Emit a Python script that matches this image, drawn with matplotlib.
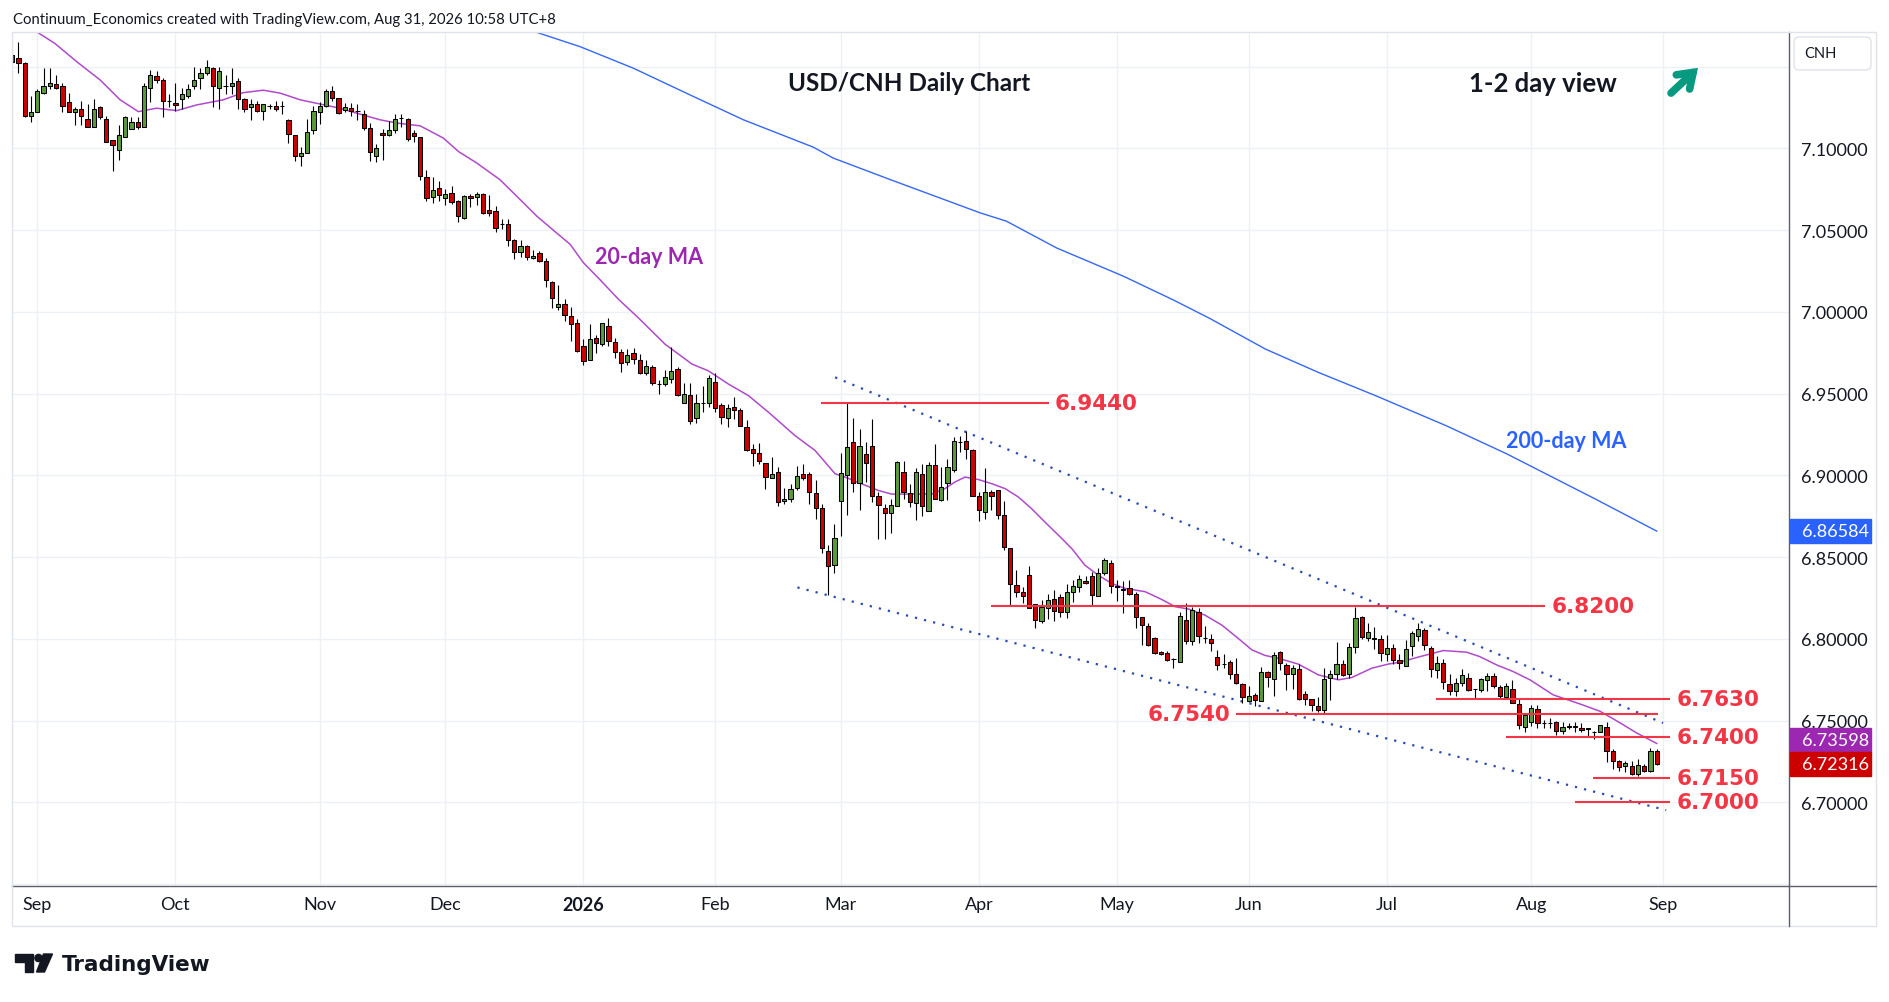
import numpy as np
import pandas as pd
import matplotlib
matplotlib.use("Agg")
from matplotlib import pyplot as plt
from matplotlib.patches import Rectangle, FancyBboxPatch, Circle, Polygon, FancyArrowPatch
from matplotlib.lines import Line2D
from matplotlib.transforms import IdentityTransform

plt.rcParams['font.family'] = ['Lato', 'DejaVu Sans']

# ---------------------------------------------------------------
# data (USD/CNH daily)
# ---------------------------------------------------------------
dates = pd.bdate_range('2025-08-26', '2026-08-31')
dates = dates[~dates.isin(pd.to_datetime(['2025-12-25', '2026-01-01']))]

opens = [
    7.1573, 7.1550, 7.1520, 7.1200, 7.1220, 7.1340, 7.1380, 7.1390, 7.1380, 7.1280,
    7.1220, 7.1240, 7.1180, 7.1130, 7.1250, 7.1180, 7.1050, 7.0990, 7.1070, 7.1120,
    7.1160, 7.1130, 7.1370, 7.1440, 7.1420, 7.1290, 7.1275, 7.1300, 7.1320, 7.1380,
    7.1430, 7.1460, 7.1490, 7.1370, 7.1380, 7.1380, 7.1410, 7.1300, 7.1250, 7.1270,
    7.1230, 7.1260, 7.1260, 7.1260, 7.1170, 7.1080, 7.0950, 7.0970, 7.1110, 7.1220,
    7.1260, 7.1350, 7.1305, 7.1236, 7.1244, 7.1226, 7.1207, 7.1122, 7.0951, 7.1091,
    7.1083, 7.1110, 7.1183, 7.1177, 7.1091, 7.1067, 7.0823, 7.0701, 7.0756, 7.0695,
    7.0726, 7.0675, 7.0573, 7.0707, 7.0701, 7.0720, 7.0624, 7.0616, 7.0535, 7.0539,
    7.0437, 7.0366, 7.0402, 7.0329, 7.0360, 7.0311, 7.0183, 7.0030, 7.0049, 6.9976,
    6.9933, 6.9793, 6.9705, 6.9837, 6.9805, 6.9915, 6.9817, 6.9756, 6.9693, 6.9746,
    6.9703, 6.9626, 6.9665, 6.9561, 6.9557, 6.9591, 6.9652, 6.9444, 6.9488, 6.9348,
    6.9444, 6.9444, 6.9573, 6.9427, 6.9350, 6.9415, 6.9397, 6.9293, 6.9159, 6.9135,
    6.9074, 6.8983, 6.9018, 6.8843, 6.8855, 6.8922, 6.9007, 6.9007, 6.8890, 6.8800,
    6.8539, 6.8449, 6.8843, 6.9002, 6.9201, 6.8951, 6.9128, 6.9177, 6.8876, 6.8799,
    6.8769, 6.8811, 6.9018, 6.8890, 6.8832, 6.9008, 6.8781, 6.9061, 6.8850, 6.8951,
    6.9032, 6.9201, 6.9207, 6.9156, 6.8876, 6.8775, 6.8900, 6.8911, 6.8754, 6.8555,
    6.8326, 6.8287, 6.8389, 6.8212, 6.8111, 6.8186, 6.8241, 6.8257, 6.8166, 6.8287,
    6.8318, 6.8354, 6.8385, 6.8263, 6.8403, 6.8466, 6.8322, 6.8304, 6.8311, 6.8274,
    6.8134, 6.8079, 6.8002, 6.7921, 6.7915, 6.7878, 6.7858, 6.8112, 6.7986, 6.8164,
    6.8004, 6.7996, 6.7890, 6.7846, 6.7860, 6.7787, 6.7726, 6.7620, 6.7655, 6.7620,
    6.7799, 6.7756, 6.7921, 6.7840, 6.7787, 6.7813, 6.7661, 6.7630, 6.7586, 6.7566,
    6.7762, 6.7787, 6.7848, 6.7787, 6.7951, 6.8134, 6.8002, 6.8006, 6.7996, 6.7908,
    6.7944, 6.7871, 6.7833, 6.7955, 6.8016, 6.8054, 6.7945, 6.7809, 6.7853, 6.7725,
    6.7681, 6.7731, 6.7762, 6.7691, 6.7687, 6.7748, 6.7772, 6.7707, 6.7646, 6.7691,
    6.7604, 6.7461, 6.7494, 6.7573, 6.7484, 6.7486, 6.7488, 6.7433, 6.7463, 6.7465,
    6.7457, 6.7453, 6.7431, 6.7427, 6.7463, 6.7311, 6.7250, 6.7220, 6.7224, 6.7173,
    6.7220, 6.7193, 6.7315,
]
highs = [
    7.1580, 7.1650, 7.1530, 7.1320, 7.1360, 7.1490, 7.1490, 7.1450, 7.1400, 7.1340,
    7.1250, 7.1290, 7.1270, 7.1300, 7.1260, 7.1200, 7.1050, 7.1140, 7.1200, 7.1190,
    7.1190, 7.1400, 7.1480, 7.1470, 7.1430, 7.1330, 7.1400, 7.1370, 7.1390, 7.1500,
    7.1490, 7.1540, 7.1500, 7.1500, 7.1450, 7.1490, 7.1430, 7.1310, 7.1300, 7.1290,
    7.1270, 7.1270, 7.1290, 7.1290, 7.1180, 7.1080, 7.1010, 7.1180, 7.1260, 7.1280,
    7.1360, 7.1380, 7.1310, 7.1276, 7.1276, 7.1270, 7.1234, 7.1154, 7.1026, 7.1118,
    7.1169, 7.1209, 7.1209, 7.1183, 7.1112, 7.1067, 7.0868, 7.0823, 7.0799, 7.0748,
    7.0768, 7.0681, 7.0715, 7.0722, 7.0732, 7.0726, 7.0715, 7.0648, 7.0569, 7.0565,
    7.0447, 7.0437, 7.0410, 7.0380, 7.0374, 7.0329, 7.0187, 7.0163, 7.0081, 7.0030,
    6.9953, 6.9833, 6.9923, 6.9858, 6.9933, 6.9959, 6.9841, 6.9774, 6.9770, 6.9780,
    6.9744, 6.9703, 6.9673, 6.9581, 6.9642, 6.9787, 6.9663, 6.9567, 6.9567, 6.9494,
    6.9549, 6.9612, 6.9628, 6.9440, 6.9433, 6.9476, 6.9411, 6.9338, 6.9190, 6.9196,
    6.9074, 6.9110, 6.9050, 6.8922, 6.8949, 6.9059, 6.9070, 6.9018, 6.8969, 6.8827,
    6.8573, 6.8705, 6.9137, 6.9443, 6.9353, 6.9286, 6.9205, 6.9343, 6.8896, 6.8825,
    6.8856, 6.9089, 6.9089, 6.8947, 6.9045, 6.9069, 6.9083, 6.9191, 6.9049, 6.9099,
    6.9236, 6.9242, 6.9268, 6.9160, 6.8896, 6.9043, 6.8911, 6.8911, 6.8842, 6.8555,
    6.8423, 6.8318, 6.8446, 6.8212, 6.8237, 6.8271, 6.8298, 6.8271, 6.8338, 6.8359,
    6.8389, 6.8383, 6.8409, 6.8430, 6.8494, 6.8483, 6.8359, 6.8351, 6.8361, 6.8284,
    6.8134, 6.8097, 6.8010, 6.7925, 6.7923, 6.7884, 6.8162, 6.8219, 6.8193, 6.8189,
    6.8081, 6.8030, 6.7929, 6.7905, 6.7868, 6.7884, 6.7732, 6.7712, 6.7671, 6.7830,
    6.7803, 6.7919, 6.7925, 6.7854, 6.7840, 6.7844, 6.7681, 6.7634, 6.7641, 6.7819,
    6.7809, 6.7980, 6.7868, 6.7976, 6.8195, 6.8142, 6.8097, 6.8073, 6.8026, 6.8026,
    6.7965, 6.7904, 6.7995, 6.8050, 6.8097, 6.8066, 6.7955, 6.7894, 6.7878, 6.7782,
    6.7762, 6.7813, 6.7792, 6.7695, 6.7762, 6.7788, 6.7788, 6.7715, 6.7731, 6.7746,
    6.7630, 6.7549, 6.7593, 6.7597, 6.7504, 6.7518, 6.7498, 6.7488, 6.7484, 6.7488,
    6.7484, 6.7457, 6.7437, 6.7472, 6.7488, 6.7325, 6.7260, 6.7254, 6.7254, 6.7264,
    6.7234, 6.7329, 6.7325,
]
lows = [
    7.1520, 7.1460, 7.1190, 7.1160, 7.1220, 7.1330, 7.1360, 7.1360, 7.1220, 7.1220,
    7.1140, 7.1140, 7.1130, 7.1130, 7.1180, 7.1040, 7.0860, 7.0930, 7.1070, 7.1120,
    7.1120, 7.1130, 7.1280, 7.1400, 7.1190, 7.1250, 7.1230, 7.1240, 7.1310, 7.1360,
    7.1360, 7.1450, 7.1250, 7.1240, 7.1330, 7.1330, 7.1240, 7.1220, 7.1170, 7.1220,
    7.1170, 7.1240, 7.1230, 7.1210, 7.1030, 7.0920, 7.0890, 7.0970, 7.1090, 7.1150,
    7.1250, 7.1290, 7.1210, 7.1220, 7.1195, 7.1175, 7.1114, 7.0925, 7.0915, 7.0931,
    7.1077, 7.1093, 7.1128, 7.1043, 7.1037, 7.0803, 7.0675, 7.0665, 7.0675, 7.0650,
    7.0661, 7.0549, 7.0569, 7.0640, 7.0650, 7.0600, 7.0585, 7.0488, 7.0504, 7.0402,
    7.0321, 7.0333, 7.0319, 7.0321, 7.0305, 7.0150, 7.0024, 7.0010, 6.9943, 6.9821,
    6.9756, 6.9675, 6.9705, 6.9746, 6.9791, 6.9791, 6.9716, 6.9632, 6.9673, 6.9679,
    6.9620, 6.9616, 6.9553, 6.9496, 6.9543, 6.9567, 6.9486, 6.9444, 6.9314, 6.9320,
    6.9389, 6.9415, 6.9384, 6.9316, 6.9297, 6.9344, 6.9300, 6.9151, 6.9054, 6.9066,
    6.8918, 6.8983, 6.8815, 6.8823, 6.8835, 6.8908, 6.8969, 6.8827, 6.8731, 6.8522,
    6.8266, 6.8400, 6.8628, 6.8754, 6.8896, 6.8785, 6.8957, 6.8836, 6.8612, 6.8612,
    6.8649, 6.8811, 6.8856, 6.8805, 6.8724, 6.8750, 6.8781, 6.8856, 6.8842, 6.8846,
    6.9018, 6.9140, 6.9099, 6.8876, 6.8718, 6.8730, 6.8789, 6.8730, 6.8541, 6.8206,
    6.8257, 6.8216, 6.8186, 6.8068, 6.8095, 6.8121, 6.8111, 6.8135, 6.8125, 6.8227,
    6.8287, 6.8338, 6.8206, 6.8263, 6.8389, 6.8280, 6.8233, 6.8158, 6.8270, 6.8067,
    6.7959, 6.7955, 6.7905, 6.7899, 6.7864, 6.7819, 6.7858, 6.7965, 6.7959, 6.7976,
    6.7972, 6.7925, 6.7809, 6.7823, 6.7756, 6.7722, 6.7610, 6.7614, 6.7586, 6.7620,
    6.7706, 6.7651, 6.7809, 6.7687, 6.7691, 6.7626, 6.7594, 6.7559, 6.7553, 6.7545,
    6.7626, 6.7752, 6.7773, 6.7760, 6.7915, 6.8000, 6.7986, 6.7935, 6.7864, 6.7863,
    6.7843, 6.7817, 6.7833, 6.7894, 6.7985, 6.7934, 6.7766, 6.7762, 6.7695, 6.7654,
    6.7650, 6.7711, 6.7681, 6.7638, 6.7675, 6.7681, 6.7701, 6.7634, 6.7640, 6.7606,
    6.7447, 6.7427, 6.7468, 6.7457, 6.7457, 6.7457, 6.7411, 6.7417, 6.7451, 6.7427,
    6.7427, 6.7407, 6.7386, 6.7427, 6.7244, 6.7203, 6.7193, 6.7183, 6.7169, 6.7159,
    6.7183, 6.7183, 6.7230,
]
closes = [
    7.1530, 7.1520, 7.1200, 7.1220, 7.1350, 7.1380, 7.1400, 7.1370, 7.1260, 7.1220,
    7.1240, 7.1200, 7.1130, 7.1240, 7.1190, 7.1040, 7.1020, 7.1080, 7.1190, 7.1160,
    7.1130, 7.1380, 7.1450, 7.1420, 7.1290, 7.1290, 7.1265, 7.1330, 7.1360, 7.1420,
    7.1460, 7.1500, 7.1380, 7.1470, 7.1380, 7.1400, 7.1300, 7.1240, 7.1270, 7.1230,
    7.1270, 7.1260, 7.1240, 7.1260, 7.1090, 7.0950, 7.0970, 7.1100, 7.1230, 7.1260,
    7.1350, 7.1310, 7.1213, 7.1250, 7.1226, 7.1226, 7.1126, 7.0976, 7.1000, 7.1079,
    7.1112, 7.1177, 7.1183, 7.1055, 7.1073, 7.0829, 7.0695, 7.0746, 7.0715, 7.0722,
    7.0671, 7.0585, 7.0711, 7.0695, 7.0720, 7.0604, 7.0604, 7.0512, 7.0535, 7.0437,
    7.0366, 7.0402, 7.0333, 7.0341, 7.0311, 7.0195, 7.0085, 7.0045, 6.9980, 6.9925,
    6.9762, 6.9701, 6.9833, 6.9811, 6.9933, 6.9821, 6.9756, 6.9689, 6.9738, 6.9711,
    6.9628, 6.9671, 6.9567, 6.9561, 6.9598, 6.9640, 6.9492, 6.9494, 6.9334, 6.9440,
    6.9444, 6.9592, 6.9413, 6.9354, 6.9409, 6.9401, 6.9300, 6.9155, 6.9135, 6.9090,
    6.8987, 6.9007, 6.8835, 6.8857, 6.8916, 6.8995, 6.8983, 6.8896, 6.8800, 6.8553,
    6.8447, 6.8617, 6.9014, 6.9171, 6.8951, 6.9181, 6.9073, 6.8872, 6.8819, 6.8769,
    6.8821, 6.9079, 6.8896, 6.8836, 6.9018, 6.8811, 6.9061, 6.8856, 6.8927, 6.9049,
    6.9207, 6.9201, 6.9160, 6.8876, 6.8785, 6.8896, 6.8872, 6.8760, 6.8562, 6.8334,
    6.8287, 6.8263, 6.8190, 6.8115, 6.8192, 6.8235, 6.8172, 6.8162, 6.8287, 6.8324,
    6.8364, 6.8342, 6.8267, 6.8405, 6.8480, 6.8324, 6.8316, 6.8296, 6.8274, 6.8134,
    6.8083, 6.7961, 6.7915, 6.7905, 6.7870, 6.7878, 6.8142, 6.7986, 6.8173, 6.8016,
    6.8004, 6.7976, 6.7840, 6.7846, 6.7787, 6.7732, 6.7641, 6.7647, 6.7626, 6.7799,
    6.7767, 6.7903, 6.7850, 6.7783, 6.7819, 6.7634, 6.7634, 6.7596, 6.7566, 6.7756,
    6.7783, 6.7848, 6.7779, 6.7949, 6.8128, 6.8010, 6.8043, 6.8000, 6.7915, 6.7944,
    6.7873, 6.7853, 6.7939, 6.8036, 6.8060, 6.7961, 6.7817, 6.7853, 6.7738, 6.7681,
    6.7731, 6.7780, 6.7687, 6.7691, 6.7752, 6.7772, 6.7711, 6.7650, 6.7711, 6.7610,
    6.7474, 6.7532, 6.7579, 6.7482, 6.7484, 6.7486, 6.7433, 6.7463, 6.7465, 6.7463,
    6.7445, 6.7451, 6.7431, 6.7472, 6.7311, 6.7254, 6.7214, 6.7240, 6.7173, 6.7228,
    6.7193, 6.7315, 6.72316,
]

# 20-day MA (bar position, value)
ma20_pos = [3.0, 4.4, 6.8, 10.3, 14.0, 17.2, 20.1, 23.0, 26.2, 29.4, 33.6, 36.8, 40.0,
            42.7, 45.9, 49.0, 52.2, 53.3, 58.6, 61.3, 65.0, 68.7, 71.1, 74.0, 77.7,
            80.4, 83.6, 86.7, 88.9, 91.0, 93.6, 96.6, 99.7, 104.0, 108.3, 110.9, 114.1,
            117.3, 120.5, 124.7, 127.9, 131.1, 132.7, 135.3, 138.0, 140.1, 143.3, 146.5,
            148.6, 150.2, 151.8, 153.9, 156.1, 158.2, 160.3, 162.4, 164.5, 166.7, 168.8,
            170.9, 173.0, 175.2, 177.3, 180.5, 183.1, 185.3, 187.4, 190.0, 192.7, 195.3,
            197.5, 199.6, 201.7, 204.9, 208.1, 211.3, 213.4, 216.6, 219.2, 221.1, 224.3,
            228.0, 231.7, 233.8, 236.5, 239.1, 241.8, 245.5, 249.8, 253.0, 256.2, 258.8,
            262.0]
ma20_val = [7.1735, 7.1700, 7.1641, 7.1529, 7.1418, 7.1296, 7.1224, 7.1245, 7.1230, 7.1265,
            7.1296, 7.1340, 7.1355, 7.1337, 7.1296, 7.1271, 7.1245, 7.1232, 7.1174, 7.1154,
            7.1137, 7.1062, 7.0980, 7.0910, 7.0808, 7.0706, 7.0584, 7.0483, 7.0412, 7.0300,
            7.0198, 7.0076, 6.9965, 6.9802, 6.9680, 6.9639, 6.9558, 6.9487, 6.9385, 6.9243,
            6.9152, 6.9009, 6.8989, 6.8948, 6.8907, 6.8885, 6.8885, 6.8885, 6.8918, 6.8959,
            6.8989, 6.8974, 6.8948, 6.8918, 6.8867, 6.8796, 6.8715, 6.8633, 6.8552, 6.8450,
            6.8389, 6.8338, 6.8308, 6.8288, 6.8241, 6.8196, 6.8182, 6.8145, 6.8084, 6.8003,
            6.7932, 6.7898, 6.7881, 6.7845, 6.7779, 6.7749, 6.7763, 6.7820, 6.7845, 6.7857,
            6.7891, 6.7928, 6.7918, 6.7891, 6.7840, 6.7800, 6.7749, 6.7657, 6.7601, 6.7556,
            6.7485, 6.7424, 6.73598]

# 200-day MA
ma200_pos = [80.0, 84.1, 90.5, 99.0, 108.0, 116.5, 127.6, 130.8, 139.9, 154.2, 158.4,
             166.4, 177.0, 185.0, 190.8, 199.7, 208.1, 217.2, 228.4, 238.1, 252.1, 262.0]
ma200_val = [7.1755, 7.1702, 7.1621, 7.1489, 7.1326, 7.1174, 7.1007, 7.0940, 7.0808,
             7.0605, 7.0554, 7.0390, 7.0218, 7.0072, 6.9959, 6.9771, 6.9629, 6.9487,
             6.9304, 6.9131, 6.8857, 6.86584]

# falling channel (bar position, price)
upper_chan_pos = [131.1, 263.0]
upper_chan_val = [6.9599, 6.7485]
lower_chan_pos = [125.1, 263.5]
lower_chan_val = [6.8314, 6.6952]

# key levels and the bars they span
levels = [6.9440, 6.8200, 6.7630, 6.7540, 6.7400, 6.7150, 6.7000]
level_span = [(128.9, 165.1), (155.9, 244.2), (226.9, 264.1), (195.0, 262.2),
              (238.0, 264.1), (251.9, 264.1), (249.0, 264.1)]
level_label_left = [False, False, False, True, False, False, False]

# ---------------------------------------------------------------
W, H = 1889, 1003
GREEN = '#5a9a3c'
RED = '#cc0000'
LVL = '#f23645'
GRID = '#edf0f5'
AXC = '#5d606b'
PURPLE = '#9c27b0'
BLUE = '#2962ff'
INK = '#131722'

fig = plt.figure(figsize=(W / 100, H / 100), dpi=100)
PL, PR, PT, PB = 12, 1789, 33, 887
ax = fig.add_axes([PL / W, 1 - PB / H, (PR - PL) / W, (PB - PT) / H])
ax.set_xlim(-0.03, 283.07)
ax.set_ylim(6.6488, 7.1711)

o = np.array(opens); hi = np.array(highs); lo = np.array(lows); c = np.array(closes)
x = np.arange(len(dates))

# grid
for p in np.arange(6.65, 7.16, 0.05):
    ax.axhline(p, color=GRID, lw=1, zorder=0)

month_pos = [i for i in range(1, len(dates)) if dates[i].month != dates[i - 1].month]
month_lab = [str(dates[i].year) if dates[i].month == 1 else dates[i].strftime('%b') for i in month_pos]
month_pos.append(len(dates))
month_lab.append((dates[-1] + pd.Timedelta(days=1)).strftime('%b'))
for mp in month_pos:
    ax.axvline(mp, color=GRID, lw=1, zorder=0)

# candles
up = c >= o
ax.vlines(x, lo, hi, color='black', lw=0.8, zorder=3)
ax.bar(x, np.abs(c - o), bottom=np.minimum(o, c), width=0.68,
       color=np.where(up, GREEN, RED), edgecolor='black', linewidth=0.75, zorder=4)

# moving averages
ax.plot(ma20_pos, ma20_val, color='#b04acb', lw=1.1, zorder=2)
ax.plot(ma200_pos, ma200_val, color='#3467f5', lw=1.0, zorder=2)

# channel
ax.plot(upper_chan_pos, upper_chan_val, color='#2a4bb0', lw=1.6, ls=(0, (1, 3.2)), zorder=2)
ax.plot(lower_chan_pos, lower_chan_val, color='#2a4bb0', lw=1.6, ls=(0, (1, 3.2)), zorder=2)

# levels
for lvl, (s, e), left in zip(levels, level_span, level_label_left):
    ax.hlines(lvl, s, e, color=LVL, lw=1.5, zorder=5)
    if left:
        ax.text(s - 1.0, lvl, f'{lvl:.4f}', color=LVL, fontsize=15.5, fontweight='bold',
                family='DejaVu Sans', ha='right', va='center', zorder=6)
    else:
        ax.text(e + 1.0, lvl, f'{lvl:.4f}', color=LVL, fontsize=15.5, fontweight='bold',
                family='DejaVu Sans', ha='left', va='center', zorder=6)

# text labels on the chart
ax.text(101.5, 7.0341, '20-day MA', color=PURPLE, fontsize=15.5, fontweight='bold',
        ha='center', va='center')
ax.text(247.5, 6.9210, '200-day MA', color=BLUE, fontsize=15.5, fontweight='bold',
        ha='center', va='center')

# axes styling
for sp in ['top', 'left']:
    ax.spines[sp].set_visible(False)
for sp in ['right', 'bottom']:
    ax.spines[sp].set_color(AXC)
    ax.spines[sp].set_linewidth(1)

ax.yaxis.tick_right()
yt = np.arange(6.70, 7.101, 0.05)
ax.set_yticks(yt)
ax.set_yticklabels([f'{v:.5f}' for v in yt])
ax.tick_params(axis='y', length=0, pad=9, labelsize=13, labelcolor=INK)
ax.set_xticks(month_pos)
ax.set_xticklabels(month_lab)
ax.tick_params(axis='x', length=0, pad=7, labelsize=13, labelcolor=INK)
for t in ax.get_xticklabels():
    if t.get_text().isdigit():
        t.set_fontweight('bold')

fig.canvas.draw()

ident = IdentityTransform()


def fy(ytop):
    return H - ytop


# frame lines
fig.add_artist(Line2D([PR, 1876], [fy(PB), fy(PB)], transform=ident, color=AXC, lw=1))
fig.add_artist(Line2D([PR, PR], [fy(PB), fy(927)], transform=ident, color=AXC, lw=1))
fig.add_artist(Rectangle((PL, fy(927)), 1876 - PL, 927 - PT, transform=ident,
                         fill=False, edgecolor='#e0e3eb', lw=1))

# price tags
tags = [(ma200_val[-1], BLUE), (ma20_val[-1], PURPLE), (closes[-1], RED)]
ys = [ax.transData.transform((0, v))[1] for v, _ in tags]
if ys[1] - ys[2] < 24.5:
    ys[1] = ys[2] + 24.5
for (v, col), yp in zip(tags, ys):
    fig.add_artist(Rectangle((1790, yp - 12), 81, 24, transform=ident, color=col, zorder=10))
    fig.text(1802, yp, f'{v:.5f}', transform=ident, color='white', fontsize=13,
             va='center', ha='left', zorder=11)

# CNH box
fig.add_artist(FancyBboxPatch((1794, fy(71)), 77, 33, transform=ident,
                              boxstyle='round,pad=0,rounding_size=5',
                              facecolor='white', edgecolor='#e0e3eb', lw=1, zorder=10))
fig.text(1804, fy(54.5), 'CNH', transform=ident, fontsize=10.5, color=INK, va='center', zorder=11)

# header and titles
fig.text(13, fy(20), 'Continuum_Economics created with TradingView.com, Aug 31, 2026 10:58 UTC+8',
         transform=ident, fontsize=10.7, color=INK, va='center')
fig.text(909, fy(84), 'USD/CNH Daily Chart', transform=ident, fontsize=17.5,
         fontweight='bold', color=INK, ha='center', va='center')
fig.text(1543, fy(84), '1-2 day view', transform=ident, fontsize=18.5,
         fontweight='bold', color=INK, ha='center', va='center')
fig.add_artist(FancyArrowPatch(
    (1669, fy(96)), (1700, fy(67)), transform=ident,
    arrowstyle='->,head_length=10,head_width=7', lw=5.5, color='#089981',
    mutation_scale=1, capstyle='round', joinstyle='miter'))

# TradingView logo
fig.add_artist(Polygon([(15, fy(955)), (33, fy(955)), (33, fy(973)), (25, fy(973)),
                        (25, fy(963)), (15, fy(963))], closed=True, transform=ident,
                       color=INK))
fig.add_artist(Circle((38.5, fy(959)), 3.6, transform=ident, color=INK))
fig.add_artist(Polygon([(43.5, fy(955)), (52.5, fy(955)), (44.5, fy(973)), (36.5, fy(973))],
                       closed=True, transform=ident, color=INK))
fig.text(62, fy(965), 'TradingView', transform=ident, fontsize=15.5, fontweight='bold',
         family='DejaVu Sans', color=INK, va='center')

fig.savefig('out.png', dpi=100)
